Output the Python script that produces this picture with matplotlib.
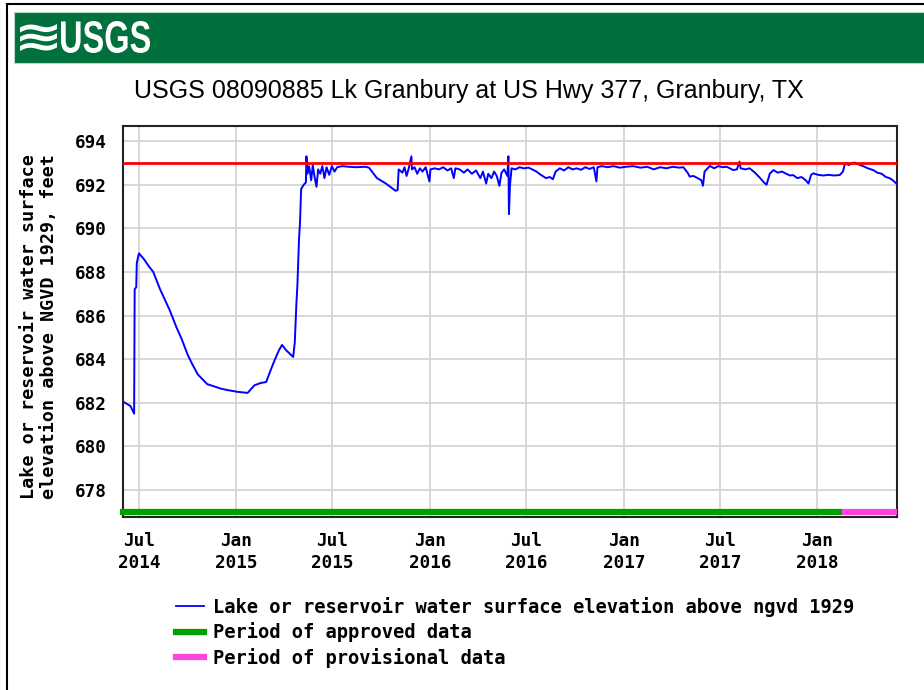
import datetime as dt
import matplotlib
matplotlib.use("Agg")
import matplotlib.pyplot as plt
import matplotlib.dates as mdates
from matplotlib.lines import Line2D
from matplotlib.patches import Rectangle, PathPatch
from matplotlib.textpath import TextPath
from matplotlib.font_manager import FontProperties
from matplotlib.transforms import Affine2D

TITLE = "USGS 08090885 Lk Granbury at US Hwy 377, Granbury, TX"
Y_LABEL = "Lake or reservoir water surface\nelevation above NGVD 1929, feet"

# gage height readings
obs_dates = [
    "2014-06-01", "2014-06-08", "2014-06-15", "2014-06-22", "2014-06-23", "2014-06-26",
    "2014-06-27", "2014-07-01", "2014-07-10", "2014-07-20", "2014-07-28", "2014-08-10",
    "2014-08-28", "2014-09-10", "2014-09-20", "2014-10-01", "2014-10-09", "2014-10-20",
    "2014-11-07", "2014-11-20", "2014-12-02", "2014-12-15", "2015-01-03", "2015-01-22",
    "2015-02-04", "2015-02-15", "2015-02-26", "2015-03-05", "2015-03-14", "2015-03-22",
    "2015-03-28", "2015-04-05", "2015-04-18", "2015-04-21", "2015-04-24", "2015-04-26",
    "2015-04-29", "2015-05-01", "2015-05-03", "2015-05-08", "2015-05-12", "2015-05-13",
    "2015-05-15", "2015-05-18", "2015-05-22", "2015-05-25", "2015-05-28", "2015-06-01",
    "2015-06-04", "2015-06-08", "2015-06-12", "2015-06-16", "2015-06-20", "2015-06-25",
    "2015-06-30", "2015-07-05", "2015-07-10", "2015-07-20", "2015-08-01", "2015-08-15",
    "2015-09-01", "2015-09-08", "2015-09-23", "2015-10-10", "2015-10-28", "2015-11-01",
    "2015-11-03", "2015-11-10", "2015-11-14", "2015-11-18", "2015-11-22", "2015-11-27",
    "2015-11-28", "2015-12-03", "2015-12-08", "2015-12-13", "2015-12-18", "2015-12-24",
    "2015-12-31", "2016-01-02", "2016-01-10", "2016-01-18", "2016-01-26", "2016-02-03",
    "2016-02-10", "2016-02-15", "2016-02-18", "2016-02-26", "2016-03-05", "2016-03-12",
    "2016-03-20", "2016-03-28", "2016-04-05", "2016-04-10", "2016-04-16", "2016-04-20",
    "2016-04-26", "2016-05-01", "2016-05-06", "2016-05-11", "2016-05-15", "2016-05-20",
    "2016-05-26", "2016-05-28", "2016-05-29", "2016-05-31", "2016-06-03", "2016-06-10",
    "2016-06-18", "2016-06-26", "2016-07-05", "2016-07-12", "2016-07-20", "2016-07-28",
    "2016-08-07", "2016-08-14", "2016-08-20", "2016-08-25", "2016-09-02", "2016-09-10",
    "2016-09-18", "2016-09-26", "2016-10-04", "2016-10-12", "2016-10-20", "2016-10-28",
    "2016-11-05", "2016-11-10", "2016-11-12", "2016-11-20", "2016-12-01", "2016-12-12",
    "2016-12-24", "2017-01-05", "2017-01-18", "2017-02-01", "2017-02-14", "2017-02-26",
    "2017-03-10", "2017-03-22", "2017-04-03", "2017-04-15", "2017-04-23", "2017-05-01",
    "2017-05-05", "2017-05-12", "2017-05-20", "2017-05-27", "2017-05-30", "2017-06-02",
    "2017-06-12", "2017-06-20", "2017-06-28", "2017-07-06", "2017-07-14", "2017-07-26",
    "2017-08-02", "2017-08-07", "2017-08-09", "2017-08-18", "2017-08-26", "2017-09-05",
    "2017-09-15", "2017-09-22", "2017-09-27", "2017-10-03", "2017-10-10", "2017-10-18",
    "2017-10-26", "2017-11-03", "2017-11-10", "2017-11-16", "2017-11-24", "2017-12-02",
    "2017-12-10", "2017-12-15", "2017-12-20", "2017-12-24", "2018-01-02", "2018-01-12",
    "2018-01-22", "2018-02-01", "2018-02-12", "2018-02-18", "2018-02-22", "2018-03-01",
    "2018-03-08", "2018-03-13", "2018-03-20", "2018-03-28", "2018-04-06", "2018-04-16",
    "2018-04-24", "2018-05-02", "2018-05-10", "2018-05-17", "2018-05-23", "2018-05-30",
]
elevation = [
    682.05, 681.95, 681.85, 681.5, 687.2, 687.3,
    688.4, 688.85, 688.6, 688.25, 688.0, 687.2,
    686.25, 685.45, 684.9, 684.2, 683.8, 683.3,
    682.85, 682.75, 682.65, 682.58, 682.5, 682.45,
    682.8, 682.9, 682.95, 683.4, 683.95, 684.4,
    684.65, 684.4, 684.1, 684.75, 686.5, 687.4,
    689.5, 690.3, 691.8, 692.0, 692.1, 693.3,
    692.5, 692.85, 692.2, 692.9, 692.4, 691.9,
    692.7, 692.5, 692.85, 692.3, 692.8, 692.45,
    692.85, 692.6, 692.8, 692.85, 692.82, 692.8,
    692.82, 692.78, 692.3, 692.05, 691.72, 691.75,
    692.7, 692.55, 692.8, 692.4, 692.75, 693.3,
    692.7, 692.8, 692.5, 692.75, 692.6, 692.8,
    692.15, 692.7, 692.75, 692.7, 692.8, 692.65,
    692.75, 692.3, 692.75, 692.7, 692.55, 692.7,
    692.5, 692.65, 692.3, 692.6, 692.05, 692.5,
    692.3, 692.6, 692.4, 691.95, 692.55, 692.7,
    692.4, 693.3, 690.65, 692.0, 692.75, 692.7,
    692.8, 692.75, 692.78, 692.7, 692.6, 692.45,
    692.3, 692.35, 692.25, 692.6, 692.75, 692.65,
    692.8, 692.7, 692.75, 692.68, 692.8, 692.72,
    692.8, 692.15, 692.8, 692.85, 692.8, 692.85,
    692.78, 692.82, 692.85, 692.78, 692.82, 692.7,
    692.8, 692.75, 692.82, 692.78, 692.8, 692.55,
    692.37, 692.4, 692.3, 692.2, 691.95, 692.6,
    692.86, 692.75, 692.85, 692.8, 692.82, 692.67,
    692.7, 693.06, 692.75, 692.7, 692.75, 692.55,
    692.3, 692.1, 692.0, 692.5, 692.67, 692.55,
    692.6, 692.5, 692.42, 692.44, 692.3, 692.35,
    692.2, 692.05, 692.45, 692.52, 692.45, 692.42,
    692.45, 692.42, 692.44, 692.6, 692.98, 692.9,
    693.0, 693.01, 692.92, 692.85, 692.75, 692.67,
    692.55, 692.5, 692.35, 692.3, 692.2, 692.05,
]

reference_level = 693.0
approved_period = ["2014-05-26", "2018-02-17"]
provisional_period = ["2018-02-17", "2018-05-31"]
band_level = 677.0

tick_dates = ["2014-07-01", "2015-01-01", "2015-07-01", "2016-01-01",
              "2016-07-01", "2017-01-01", "2017-07-01", "2018-01-01"]
tick_labels = ["Jul\n2014", "Jan\n2015", "Jul\n2015", "Jan\n2016",
               "Jul\n2016", "Jan\n2017", "Jul\n2017", "Jan\n2018"]
y_ticks = [678, 680, 682, 684, 686, 688, 690, 692, 694]

legend_labels = ["Lake or reservoir water surface elevation above ngvd 1929",
                 "Period of approved data",
                 "Period of provisional data"]

W, H = 924, 690


def to_date(s):
    return dt.datetime.strptime(s, "%Y-%m-%d")


def squeezed_text(fig, s, box, family, weight="bold"):
    # fit a text outline into a pixel box (x0, y0_top, x1, y1_bottom)
    tp = TextPath((0, 0), s, size=50, prop=FontProperties(family=family, weight=weight))
    ext = tp.get_extents()
    x0, top, x1, bottom = box
    sx = (x1 - x0) / ext.width
    sy = (bottom - top) / ext.height
    tr = Affine2D().translate(-ext.x0, -ext.y0).scale(sx, sy).translate(x0, H - bottom)
    fig.add_artist(PathPatch(tr.transform_path(tp), facecolor="white", lw=0,
                             transform=None))


mono = {"family": "DejaVu Sans Mono", "weight": "bold", "size": 12.7}

fig = plt.figure(figsize=(W / 100, H / 100), dpi=100)

# page frame and header banner
fig.add_artist(Line2D([7 / W, 7 / W], [0, 1 - 4 / H], color="black", lw=1.5))
fig.add_artist(Line2D([7 / W, 1], [1 - 4 / H, 1 - 4 / H], color="black", lw=1.5))
fig.add_artist(Rectangle((14 / W, 1 - 63 / H), 1, 51 / H,
                         facecolor="#00703c", edgecolor="#b8d8c4", lw=0.8))
squeezed_text(fig, "\u224b", (20, 24, 57, 51), "DejaVu Sans")
squeezed_text(fig, "USGS", (61, 21, 150, 53), "Liberation Sans")

fig.text(469 / W, 1 - 91 / H, TITLE, fontsize=18, ha="center", va="center",
         family="Liberation Sans")

ax = fig.add_axes([123 / W, 173 / H, 774 / W, 391 / H])

x = [to_date(d) for d in obs_dates]
ax.plot(x, elevation, color="#0000ff", lw=1.4, zorder=3)
ax.axhline(reference_level, color="#ff0000", lw=2, zorder=4)
ax.plot([to_date(d) for d in approved_period], [band_level] * 2,
        color="#00a000", lw=4.5, solid_capstyle="butt", clip_on=False, zorder=5)
ax.plot([to_date(d) for d in provisional_period], [band_level] * 2,
        color="#ff44dd", lw=4.5, solid_capstyle="butt", clip_on=False, zorder=5)

ax.set_xlim(to_date("2014-06-01"), to_date("2018-05-31"))
ax.set_ylim(676.76, 694.69)
ax.set_yticks(y_ticks)
ax.set_yticklabels([str(v) for v in y_ticks], fontdict=mono)
ax.set_xticks([mdates.date2num(to_date(d)) for d in tick_dates])
ax.set_xticklabels(tick_labels, fontdict=mono, linespacing=1.25)
ax.tick_params(axis="both", length=0)
ax.tick_params(axis="y", pad=12)
ax.tick_params(axis="x", pad=11)
ax.grid(True, color="#d4d4d4", lw=1.3)
ax.set_axisbelow(True)
for sp in ax.spines.values():
    sp.set_linewidth(1.5)
    sp.set_color("#222222")

fig.text(39 / W, 1 - 327 / H, Y_LABEL, rotation=90, ha="center", va="center",
         linespacing=1.2, family="DejaVu Sans Mono", weight="bold", size=13.2)

handles = [Line2D([], [], color="#0000ff", lw=1.3),
           Line2D([], [], color="#00a000", lw=4.5),
           Line2D([], [], color="#ff44dd", lw=4.5)]
fig.legend(handles, legend_labels, loc="upper left",
           bbox_to_anchor=(176 / W, 1 - 597 / H), frameon=False,
           prop={"family": "DejaVu Sans Mono", "weight": "bold", "size": 13.5},
           handlelength=1.5, handletextpad=0.48, labelspacing=0.29,
           borderaxespad=0, borderpad=0)

fig.savefig("out.png", dpi=100)
